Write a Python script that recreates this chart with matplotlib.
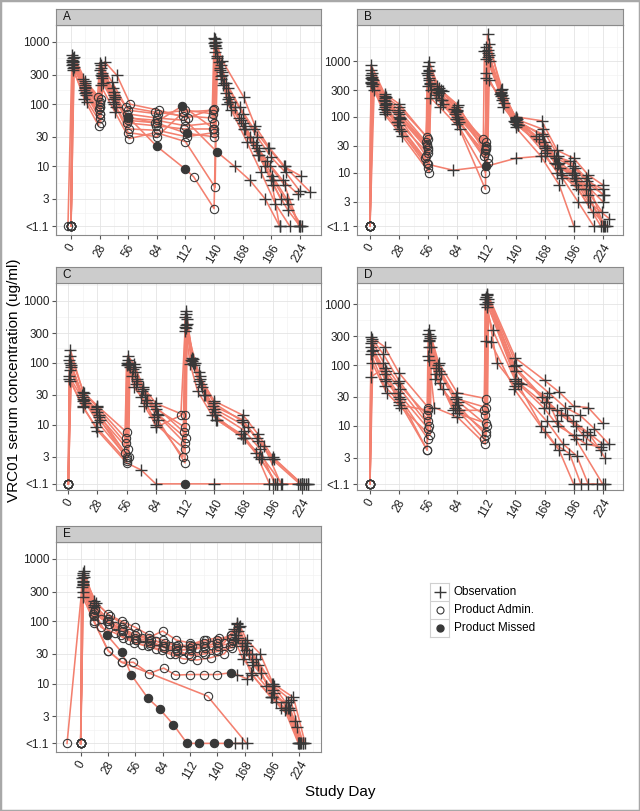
import numpy as np
import matplotlib.pyplot as plt

plt.rcParams['font.family'] = ['Liberation Sans', 'DejaVu Sans']

LINE = '#F3806F'
MARK = '#383838'

# kind codes: o = product admin, + = observation, * = product missed
# values below the limit (<1.1) are stored as 1.1

# ---- panel A
A_day = [
    [0, 2, 14, 28, 29, 42, 56, 84, 112, 140, 141, 147, 154, 168, 182, 196, 210, 224],
    [0, 1, 13, 27, 28, 43, 55, 83, 111, 139, 140, 146, 155, 166, 181, 195, 209, 223],
    [0, 3, 15, 28, 30, 41, 57, 85, 113, 140, 142, 148, 153, 170, 184, 197, 211, 224],
    [-3, 1, 12, 26, 28, 40, 54, 82, 110, 138, 140, 145, 152, 165, 179, 193, 208, 225],
    [0, 2, 16, 29, 31, 44, 56, 84, 110, 139, 141, 147, 156, 169, 183, 198, 212, 226],
    [0, 2, 14, 28, 30, 42, 56, 84, 112, 120, 140, 143, 150, 160, 175, 190, 205],
    [0, 1, 14, 28, 29, 42, 56, 84, 113, 140, 141, 148, 154, 168, 182, 196, 204],
    [0, 2, 13, 27, 29, 43, 57, 83, 112, 141, 143, 149, 157, 172, 186, 200, 214],
    [0, 1, 15, 28, 30, 42, 55, 84, 112, 143, 160, 175, 190, 204],
    [0, 2, 14, 28, 29, 41, 56, 85, 112, 139, 141, 146, 152, 164, 178, 192, 207, 222],
    [0, 3, 14, 29, 33, 45, 58, 86, 114, 140, 142, 148, 169, 180, 194, 209, 234],
    [0, 2, 14, 28, 30, 42, 56, 82, 109, 140, 141, 147, 156, 170, 184, 198, 212, 224],
]
A_conc = [
    [1.1, 560, 200, 100, 420, 160, 60, 55, 45, 50, 1100, 420, 180, 70, 30, 14, 8, 4],
    [1.1, 480, 170, 85, 350, 130, 50, 45, 40, 40, 950, 350, 130, 55, 22, 10, 5, 1.1],
    [1.1, 400, 140, 60, 280, 110, 40, 38, 30, 35, 800, 300, 100, 45, 18, 7, 3, 1.1],
    [1.1, 620, 250, 130, 460, 230, 90, 75, 65, 60, 1150, 480, 220, 90, 40, 20, 10, 7],
    [1.1, 350, 110, 50, 220, 90, 35, 30, 75, 80, 700, 250, 110, 40, 15, 6, 2.5, 1.1],
    [1.1, 450, 150, 70, 300, 120, 62, 21, 9, 6.8, 2.1, 600, 220, 90, 30, 10, 3],
    [1.1, 520, 190, 90, 380, 140, 55, 50, 34, 30, 900, 330, 120, 50, 20, 6, 1.1],
    [1.1, 380, 120, 45, 200, 75, 28, 35, 25, 4.6, 550, 200, 80, 25, 8, 2.5, 1.1],
    [1.1, 430, 160, 70, 320, 100, 70, 60, 55, 17, 10, 6, 3, 1.1],
    [1.1, 500, 220, 110, 300, 180, 80, 70, 80, 70, 1000, 380, 150, 60, 25, 12, 6, 3.6],
    [1.1, 580, 240, 120, 480, 290, 100, 80, 60, 85, 1000, 500, 130, 45, 20, 10, 3.9],
    [1.1, 470, 180, 90, 260, 120, 62, 50, 94, 40, 850, 280, 110, 40, 15, 5, 2, 1.1],
]
A_kind = [
    "o++o++oooo++++++++", "o++o++oooo++++++++", "o++o++oooo++++++++",
    "o++o++oooo++++++++", "o++o++oooo++++++++", "o++o++***oo++++++",
    "o++o++oo*o+++++++", "o++o++oooo+++++++", "o++o++ooo*++++",
    "o++o++oooo++++++++", "o++o++oooo+++++++", "o++o++*o*o++++++++",
]

# ---- panel B
B_day = [
    [0, 1, 14, 28, 56, 57, 66, 84, 112, 113, 126, 140, 165, 180, 196, 210, 224],
    [0, 2, 13, 27, 55, 56, 65, 83, 111, 112, 127, 141, 166, 181, 197, 211, 225],
    [0, 3, 15, 29, 54, 58, 68, 85, 110, 114, 128, 139, 163, 178, 194, 208, 223],
    [0, 1, 14, 28, 55, 57, 63, 82, 112, 113, 126, 140, 168, 183, 198, 212, 226],
    [0, 2, 16, 30, 56, 59, 70, 86, 113, 115, 129, 142, 170, 185, 200, 214, 228],
    [0, 1, 14, 28, 54, 55, 64, 81, 109, 110, 125, 138, 165, 179, 195, 209, 224],
    [0, 4, 14, 31, 57, 58, 67, 87, 111, 112, 127, 140, 164, 182, 196],
    [0, 2, 15, 28, 56, 57, 66, 84, 112, 113, 126, 141, 167, 180, 196, 210, 224],
    [0, 1, 13, 26, 53, 56, 63, 83, 111, 112, 140, 168, 182, 196, 224],
    [0, 2, 14, 28, 56, 80, 112, 140, 168, 185, 200, 215],
    [0, 1, 14, 28, 55, 57, 68, 84, 112, 114, 140, 166, 181, 197, 212, 225],
    [0, 3, 14, 27, 56, 58, 69, 84, 111, 112, 128, 142, 168, 184, 198, 222],
    [0, 2, 14, 28, 55, 56, 64, 85, 113, 114, 127, 140, 160, 177, 192, 208, 224],
    [0, 1, 15, 29, 56, 57, 70, 84, 112, 113, 126, 140, 168, 180, 198, 210, 230],
]
B_conc = [
    [1.1, 850, 260, 170, 40, 960, 330, 150, 30, 3000, 300, 100, 85, 25, 18, 9, 6],
    [1.1, 600, 200, 120, 30, 550, 280, 120, 25, 1800, 250, 90, 60, 20, 12, 6, 4],
    [1.1, 450, 170, 90, 20, 400, 200, 90, 20, 1300, 220, 80, 40, 15, 10, 5, 2],
    [1.1, 400, 150, 70, 15, 500, 250, 110, 35, 1200, 280, 95, 30, 12, 8, 3, 1.1],
    [1.1, 350, 130, 55, 12, 300, 170, 80, 15, 1000, 180, 70, 25, 9, 5, 2, 1.1],
    [1.1, 500, 220, 130, 35, 600, 320, 140, 40, 1500, 260, 85, 50, 18, 13, 7, 5],
    [1.1, 300, 110, 45, 10, 220, 150, 60, 10, 500, 200, 65, 20, 6, 1.1],
    [1.1, 520, 180, 100, 25, 450, 270, 100, 28, 1400, 240, 80, 35, 14, 9, 4, 1.1],
    [1.1, 420, 140, 80, 18, 350, 220, 90, 22, 1100, 75, 30, 15, 10, 3],
    [1.1, 380, 120, 60, 14, 11, 13, 18, 20, 8, 3, 1.1],
    [1.1, 700, 240, 150, 43, 700, 300, 130, 30, 450, 90, 45, 14, 8, 5, 1.1],
    [1.1, 380, 160, 80, 22, 380, 200, 75, 5, 600, 150, 70, 28, 10, 6, 1.1],
    [1.1, 480, 190, 110, 32, 800, 350, 160, 18, 2000, 320, 95, 45, 20, 16, 8, 4],
    [1.1, 560, 230, 95, 28, 650, 290, 125, 26, 1600, 270, 88, 22, 10, 7, 3, 1.5],
]
B_kind = [
    "o+++o+++o++++++++", "o+++o+++o++++++++", "o+++o+++o++++++++",
    "o+++o+++o++++++++", "o+++o+++o++++++++", "o+++o+++o++++++++",
    "o+++o+++o++++++", "o+++o+++o++++++++", "o+++o+++o++++++",
    "o+++o+*+++++", "o+++o+++o+++++++", "o+++o+++o+++++++",
    "o+++o+++o++++++++", "o+++o+++o++++++++",
]

# ---- panel C
C_day = [
    [0, 2, 14, 28, 56, 57, 63, 72, 84, 112, 113, 119, 126, 140, 168, 182, 196, 224],
    [0, 1, 13, 27, 55, 56, 62, 71, 83, 111, 112, 118, 125, 139, 167, 181, 195, 222],
    [0, 3, 15, 29, 57, 58, 64, 74, 85, 113, 114, 120, 128, 141, 169, 184, 198, 226],
    [0, 2, 14, 28, 54, 56, 61, 70, 82, 110, 112, 117, 124, 138, 166, 180, 193, 220],
    [0, 1, 16, 30, 58, 59, 66, 76, 86, 112, 113, 121, 130, 142, 170, 185, 200, 228],
    [0, 2, 14, 27, 56, 57, 65, 73, 84, 112, 114, 119, 127, 140, 172, 188, 204, 230],
    [0, 1, 14, 28, 56, 70, 84, 112, 140, 196, 224],
    [0, 2, 15, 28, 55, 57, 64, 72, 84, 112, 113, 120, 126, 140, 168, 182, 197, 224],
    [0, 2, 14, 28, 56, 58, 63, 75, 84, 108, 112, 125, 141, 168, 183, 200, 224],
    [0, 3, 14, 29, 56, 57, 66, 74, 86, 112, 113, 122, 131, 143, 168, 186, 205, 230],
]
C_conc = [
    [1.1, 160, 34, 20, 7.5, 130, 95, 40, 22, 14, 670, 120, 60, 24, 14, 7, 3, 1.1],
    [1.1, 110, 30, 18, 5, 100, 80, 35, 20, 7.5, 550, 110, 50, 20, 12, 6, 2.8, 1.1],
    [1.1, 90, 25, 14, 4, 95, 70, 30, 15, 6, 420, 100, 40, 16, 8, 4, 1.1, 1.1],
    [1.1, 100, 28, 16, 3.5, 90, 60, 28, 13, 3, 380, 95, 35, 14, 7, 3.5, 1.1, 1.1],
    [1.1, 60, 22, 12, 3, 85, 50, 25, 12, 2.4, 360, 90, 30, 12, 6, 2.8, 1.1, 1.1],
    [1.1, 50, 19, 9, 2.6, 100, 45, 20, 10, 4, 500, 105, 45, 18, 9, 4.5, 1.1, 1.1],
    [1.1, 55, 20, 8, 2.4, 1.84, 1.1, 1.1, 1.1, 1.1, 1.1],
    [1.1, 130, 32, 19, 6, 110, 85, 38, 18, 9, 600, 115, 55, 22, 11, 5.5, 2.8, 1.1],
    [1.1, 75, 26, 11, 3, 90, 40, 22, 9, 14, 330, 70, 14, 6, 3, 1.1, 1.1],
    [1.1, 85, 24, 13, 2.8, 95, 55, 30, 14, 5, 400, 100, 30, 12, 6, 3, 1.1, 1.1],
]
C_kind = [
    "o+++o++++o++++++++", "o+++o++++o++++++++", "o+++o++++o++++++++",
    "o+++o++++o++++++++", "o+++o++++o++++++++", "o+++o++++o++++++++",
    "o+++o++*+++", "o+++o++++o++++++++", "o+++o++++o+++++++",
    "o+++o++++o++++++++",
]

# ---- panel D
D_day = [
    [0, 1, 14, 28, 56, 57, 66, 84, 112, 113, 140, 168, 182, 196, 210, 224],
    [0, 2, 13, 27, 55, 56, 64, 83, 111, 112, 139, 166, 180, 195, 209, 224],
    [0, 1, 15, 29, 57, 58, 68, 85, 113, 114, 141, 169, 184, 198, 212, 226],
    [0, 3, 14, 28, 56, 57, 63, 82, 110, 111, 118, 140, 167, 181, 196, 208, 222],
    [0, 1, 14, 28, 55, 56, 70, 86, 112, 114, 142, 165, 178, 192, 203, 218],
    [0, 2, 16, 30, 58, 59, 67, 84, 112, 113, 122, 140, 170, 186, 199, 210],
    [0, 1, 14, 28, 56, 57, 62, 84, 111, 112, 116, 139, 168, 182, 196, 226],
    [0, 2, 13, 28, 56, 58, 65, 83, 112, 113, 141, 172, 188, 202, 216, 230],
    [0, 1, 14, 27, 56, 57, 66, 84, 112, 113, 140, 170, 180, 198, 224],
    [0, 2, 15, 29, 55, 57, 64, 80, 110, 111, 145, 172, 190, 205, 222],
]
D_conc = [
    [1.1, 290, 200, 74, 20, 380, 110, 35, 28, 1500, 130, 56, 36, 21, 20, 11],
    [1.1, 250, 110, 50, 15, 330, 90, 30, 15, 1300, 95, 30, 18, 12, 8, 5],
    [1.1, 200, 80, 40, 10, 280, 70, 25, 10, 1200, 80, 25, 15, 10, 7, 3],
    [1.1, 180, 60, 30, 6, 250, 60, 20, 6, 1000, 380, 55, 20, 10, 7, 5, 4.5],
    [1.1, 150, 45, 25, 4, 140, 40, 18, 8, 1100, 50, 10, 5, 3.5, 1.1, 1.1],
    [1.1, 110, 35, 20, 7, 200, 50, 16, 11, 900, 110, 45, 12, 5, 3.2, 1.1],
    [1.1, 64, 90, 22, 18, 120, 20, 14, 5, 250, 240, 40, 8, 4, 1.1, 1.1],
    [1.1, 270, 150, 55, 12, 300, 100, 28, 20, 1400, 100, 35, 20, 15, 9, 5],
    [1.1, 230, 70, 35, 9, 260, 80, 22, 7, 1000, 60, 30, 12, 6, 1.1],
    [1.1, 170, 55, 28, 4, 200, 70, 18, 18, 1200, 48, 20, 15, 7, 4],
]
D_kind = [
    "o+++o+++o+++++++", "o+++o+++o+++++++", "o+++o+++o+++++++",
    "o+++o+++o++++++++", "o+++o+++o+++++++", "o+++o+++o+++++++",
    "o+++o+++o+++++++", "o+++o+++o+++++++", "o+++o+++o++++++",
    "o+++o+++o++++++",
]

# ---- panel E
E_day = [
    [0, 2, 14, 28, 42, 56, 70, 84, 98, 112, 126, 140, 154, 160, 168, 175, 196, 210, 224],
    [-14, 2, 15, 29, 43, 57, 71, 85, 99, 113, 127, 141, 155, 161, 169, 177, 197, 212, 225],
    [0, 1, 13, 27, 41, 55, 69, 83, 97, 111, 125, 139, 153, 159, 167, 174, 195, 209, 223],
    [0, 3, 16, 30, 44, 58, 72, 86, 100, 114, 128, 142, 156, 162, 170, 180, 198, 215, 228],
    [0, 2, 14, 27, 42, 52, 69, 81, 95, 109, 121, 137, 151, 158, 165],
    [0, 2, 14, 28, 42, 54, 70, 85, 97, 112, 126, 140, 154, 160, 170, 175, 196, 210, 224],
    [0, 2, 14, 28, 42, 130, 170],
    [0, 1, 14, 28, 42, 56, 70, 84, 98, 112, 126, 140, 154, 160, 168, 182, 196, 212, 222],
    [0, 2, 15, 29, 43, 57, 71, 85, 99, 113, 127, 141, 155, 161, 172, 185, 200, 214, 226],
    [0, 3, 14, 28, 42, 56, 70, 84, 98, 112, 126, 140, 154, 163, 170, 184, 197, 218, 230],
    [0, 2, 14, 21, 35, 49, 63, 77, 91, 105, 119, 133, 147, 158, 166, 190, 205, 220],
    [0, 2, 14, 21, 35, 49, 63, 77, 91, 105, 119, 133, 147, 157, 165, 176, 198, 213, 228],
]
E_conc = [
    [1.1, 600, 180, 110, 80, 60, 55, 70, 50, 45, 40, 45, 55, 90, 45, 30, 10, 5, 1.1],
    [1.1, 450, 150, 90, 70, 50, 45, 40, 35, 35, 38, 40, 45, 70, 35, 20, 8, 4, 1.1],
    [1.1, 350, 130, 100, 60, 45, 40, 35, 30, 30, 32, 35, 40, 60, 30, 15, 6, 3.8, 1.1],
    [1.1, 520, 200, 120, 90, 65, 50, 45, 42, 40, 50, 55, 48, 80, 40, 25, 9, 5.5, 1.1],
    [1.1, 400, 140, 60, 32, 13.7, 5.8, 3.9, 2.2, 1.1, 1.1, 1.1, 1.1, 1.1, 1.1],
    [1.1, 300, 100, 34, 22, 22, 14.5, 17.8, 13.7, 14, 14, 14, 15, 14, 12, 14, 6, 4, 1.1],
    [1.1, 250, 95, 34, 22, 6.3, 1.1],
    [1.1, 500, 170, 100, 75, 55, 48, 40, 38, 42, 50, 45, 60, 95, 45, 20, 6, 5, 2],
    [1.1, 420, 160, 90, 55, 50, 42, 38, 34, 28, 30, 33, 38, 55, 30, 15, 5, 3.8, 1.1],
    [1.1, 650, 210, 130, 100, 80, 60, 50, 40, 38, 45, 50, 60, 85, 50, 30, 10, 6, 1.1],
    [1.1, 380, 120, 80, 65, 50, 42, 36, 30, 25, 24, 26, 30, 50, 25, 9, 4, 2.5],
    [1.1, 550, 190, 110, 85, 65, 55, 48, 40, 35, 38, 42, 45, 75, 40, 22, 7, 4, 1.1],
]
E_kind = [
    "o++oooooooooo++++++", "o+ooooooooooo++++++", "o+ooooooooooo++++++",
    "o++oooooooooo++++++", "o+o**********++", "o+oooooooooo*++++++",
    "o+oooo+", "o++oooooooooo++++++", "o+ooooooooooo++++++",
    "o++oooooooooo++++++", "o+ooooooooooo+++++", "o+ooooooooooo++++++",
]

y_ticks = [1.1, 3, 10, 30, 100, 300, 1000]
y_labels = ["<1.1", "3", "10", "30", "100", "300", "1000"]
x_ticks = [0, 28, 56, 84, 112, 140, 168, 196, 224]

# pixel boxes (left, top, right, bottom) and axis limits per panel
W, H = 640, 811
boxes = {"A": (56, 25, 321, 235), "B": (357, 25, 623, 235),
         "C": (56, 283, 321, 490), "D": (357, 283, 623, 490),
         "E": (56, 542, 321, 752)}
xlims = {"A": (-14.7, 244.6), "B": (-12.5, 243.3), "C": (-11.8, 242.5),
         "D": (-12.5, 243.5), "E": (-25.3, 246.2)}
ylims = {"A": (0.79, 1876), "B": (0.76, 4420), "C": (0.875, 1932),
         "D": (0.88, 2240), "E": (0.80, 1874)}


def fbox(l, t, r, b):
    return [l / W, 1 - b / H, (r - l) / W, (b - t) / H]


fig = plt.figure(figsize=(6.4, 8.11), dpi=100)

panels = [("A", A_day, A_conc, A_kind), ("B", B_day, B_conc, B_kind),
          ("C", C_day, C_conc, C_kind), ("D", D_day, D_conc, D_kind),
          ("E", E_day, E_conc, E_kind)]

for name, days, concs, kinds in panels:
    l, t, r, b = boxes[name]
    ax = fig.add_axes(fbox(l, t, r, b))
    ax.set_yscale('log')
    ax.set_xlim(*xlims[name])
    ax.set_ylim(*ylims[name])

    for d, c in zip(days, concs):
        ax.plot(d, c, color=LINE, lw=1.15, zorder=2)

    pts = {'+': ([], []), 'o': ([], []), '*': ([], [])}
    for d, c, k in zip(days, concs, kinds):
        for dd, cc, kk in zip(d, c, k, strict=True):
            pts[kk][0].append(dd)
            pts[kk][1].append(cc)
    ax.plot(*pts['+'], ls='none', marker='+', ms=9, mew=1.0, color=MARK, zorder=4)
    ax.plot(*pts['o'], ls='none', marker='o', ms=6, mfc='none', mec=MARK, mew=0.8, zorder=4)
    ax.plot(*pts['*'], ls='none', marker='o', ms=6, mfc=MARK, mec=MARK, mew=0.8, zorder=5)

    ax.set_yticks(y_ticks)
    ax.set_yticklabels(y_labels)
    ax.set_yticks([], minor=True)
    ax.set_xticks(x_ticks)
    ax.set_xticklabels([str(v) for v in x_ticks], rotation=60, ha='center')

    # light grid like theme_bw
    for v in [-14, 14, 42, 70, 98, 126, 154, 182, 210, 238]:
        ax.axvline(v, color='#f3f3f3', lw=0.5, zorder=0)
    for v in [1.8, 5.5, 17, 55, 170, 550, 1800]:
        ax.axhline(v, color='#f3f3f3', lw=0.5, zorder=0)
    ax.grid(True, which='major', color='#e4e4e4', lw=0.6, zorder=0)
    ax.set_axisbelow(True)

    ax.tick_params(axis='both', length=3, width=0.8, color='#555555',
                   labelsize=8.5, labelcolor='#222222', pad=2)
    for s in ax.spines.values():
        s.set_color('#8a8a8a')
        s.set_linewidth(0.8)

    sax = fig.add_axes(fbox(l, t - 16, r, t))
    sax.set_facecolor('#cccccc')
    sax.set_xticks([])
    sax.set_yticks([])
    for s in sax.spines.values():
        s.set_color('#8a8a8a')
        s.set_linewidth(0.8)
    sax.text(0.025, 0.5, name, transform=sax.transAxes, ha='left', va='center',
             fontsize=8.5, color='#111111')

fig.text(340 / W, 1 - 792 / H, "Study Day", ha='center', va='center', fontsize=11)
fig.text(14 / W, 1 - 380 / H, "VRC01 serum concentration (ug/ml)", ha='center',
         va='center', rotation=90, fontsize=11)

# legend
lax = fig.add_axes(fbox(430, 583, 449, 637))
lax.set_xlim(0, 1)
lax.set_ylim(0, 3)
lax.set_xticks([])
lax.set_yticks([])
for s in lax.spines.values():
    s.set_color('#d0d0d0')
    s.set_linewidth(0.8)
lax.axhline(1, color='#d0d0d0', lw=0.8)
lax.axhline(2, color='#d0d0d0', lw=0.8)
lax.plot([0.5], [2.5], marker='+', ms=9, mew=1.0, color=MARK)
lax.plot([0.5], [1.5], marker='o', ms=5, mfc='none', mec=MARK, mew=0.8)
lax.plot([0.5], [0.5], marker='o', ms=5, mfc=MARK, mec=MARK)
for yy, lab in zip([2.5, 1.5, 0.5], ["Observation", "Product Admin.", "Product Missed"]):
    lax.text(1.25, yy, lab, va='center', ha='left', fontsize=8.5, clip_on=False)

fig.patches.append(plt.Rectangle((0, 0), 1, 1, transform=fig.transFigure,
                                 fill=False, ec='#a8a8a8', lw=2.5))

fig.savefig("out.png", dpi=100)
